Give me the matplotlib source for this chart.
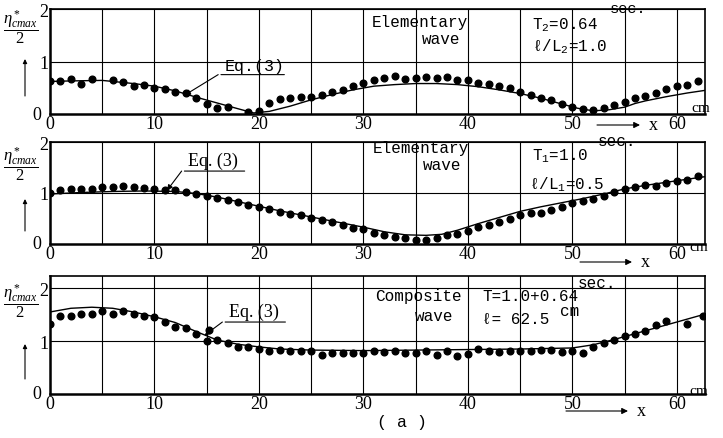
import matplotlib
matplotlib.use('Agg')
import matplotlib.pyplot as plt

plt.rcParams['mathtext.fontset'] = 'custom'
plt.rcParams['mathtext.rm'] = 'Liberation Serif'
plt.rcParams['mathtext.it'] = 'Liberation Serif:italic'
plt.rcParams['mathtext.tt'] = 'Liberation Mono'

MONO = ['Liberation Mono', 'DejaVu Sans Mono']
SERIF = ['Liberation Serif', 'DejaVu Serif']

# --- top panel: elementary wave T2 = 0.64 s
x_top = [0, 1, 2, 3, 4, 6, 7, 8, 9, 10, 11, 12, 13, 14, 15, 16, 17, 19, 20, 21,
         22, 23, 24, 25, 26, 27, 28, 29, 30, 31, 32, 33, 34, 35, 36, 37, 38, 39,
         40, 41, 42, 43, 44, 45, 46, 47, 48, 49, 50, 51, 52, 53, 54, 55, 56, 57,
         58, 59, 60, 61, 62]
y_top = [0.62, 0.63, 0.66, 0.58, 0.66, 0.64, 0.61, 0.53, 0.55, 0.50, 0.48, 0.42,
         0.40, 0.31, 0.19, 0.12, 0.14, 0.04, 0.06, 0.21, 0.28, 0.31, 0.33, 0.32,
         0.37, 0.41, 0.46, 0.53, 0.60, 0.64, 0.69, 0.72, 0.67, 0.69, 0.70, 0.69,
         0.70, 0.65, 0.64, 0.59, 0.57, 0.53, 0.50, 0.42, 0.36, 0.31, 0.26, 0.20,
         0.13, 0.09, 0.08, 0.11, 0.18, 0.23, 0.31, 0.34, 0.40, 0.47, 0.53, 0.55,
         0.62]
xc_top = [0, 2, 5, 8, 10, 12, 14, 16, 18, 19.5, 21, 23, 25, 27, 29, 31, 33, 35,
          37, 39, 41, 43, 45, 47, 49, 50.5, 52, 53.5, 55, 56, 57, 59, 61, 62.7]
yc_top = [0.62, 0.63, 0.64, 0.58, 0.53, 0.44, 0.32, 0.21, 0.10, 0.02, 0.05, 0.15,
          0.27, 0.37, 0.46, 0.53, 0.56, 0.58, 0.58, 0.56, 0.52, 0.46, 0.39, 0.30,
          0.19, 0.11, 0.06, 0.08, 0.13, 0.20, 0.25, 0.33, 0.40, 0.45]

# --- middle panel: elementary wave T1 = 1.0 s
x_mid = list(range(0, 63))
y_mid = [1.00, 1.05, 1.08, 1.08, 1.08, 1.12, 1.11, 1.13, 1.11, 1.10, 1.08, 1.06,
         1.06, 1.02, 0.98, 0.95, 0.91, 0.87, 0.82, 0.77, 0.72, 0.69, 0.62, 0.59,
         0.56, 0.51, 0.47, 0.43, 0.37, 0.31, 0.29, 0.22, 0.17, 0.14, 0.12, 0.08,
         0.07, 0.12, 0.17, 0.20, 0.25, 0.33, 0.37, 0.44, 0.49, 0.56, 0.61, 0.61,
         0.66, 0.72, 0.80, 0.85, 0.89, 0.95, 1.02, 1.08, 1.11, 1.15, 1.14, 1.20,
         1.23, 1.25, 1.33]
xc_mid = [0, 3, 6, 9, 12, 14, 16, 18, 20, 22, 24, 26, 28, 30, 32, 34, 36, 37.5,
          39, 41, 43, 45, 47, 49, 51, 53, 55, 57, 59, 61, 62.7]
yc_mid = [0.98, 1.01, 1.03, 1.04, 1.03, 0.99, 0.92, 0.83, 0.74, 0.65, 0.57, 0.49,
          0.41, 0.33, 0.24, 0.18, 0.17, 0.19, 0.27, 0.40, 0.52, 0.64, 0.73, 0.81,
          0.89, 0.98, 1.08, 1.15, 1.21, 1.27, 1.32]

# --- bottom panel: composite wave
x_bot = [0, 1, 2, 3, 4, 5, 6, 7, 8, 9, 10, 11, 12, 13, 14, 15, 15.2, 16, 17, 18,
         19, 20, 21, 22, 23, 24, 25, 26, 27, 28, 29, 30, 31, 32, 33, 34, 35, 36,
         37, 38, 39, 40, 41, 42, 43, 44, 45, 46, 47, 48, 49, 50, 51, 52, 53, 54,
         55, 56, 57, 58, 59, 61, 62.5]
y_bot = [1.32, 1.48, 1.48, 1.51, 1.52, 1.57, 1.52, 1.56, 1.52, 1.48, 1.45, 1.37,
         1.27, 1.25, 1.14, 1.01, 1.21, 1.02, 0.97, 0.88, 0.88, 0.85, 0.82, 0.83,
         0.81, 0.82, 0.81, 0.74, 0.78, 0.78, 0.77, 0.77, 0.82, 0.79, 0.81, 0.77,
         0.77, 0.81, 0.74, 0.81, 0.72, 0.75, 0.85, 0.81, 0.79, 0.82, 0.82, 0.82,
         0.83, 0.83, 0.79, 0.81, 0.77, 0.88, 0.97, 1.02, 1.10, 1.13, 1.19, 1.31,
         1.38, 1.32, 1.48]
xc_bot = [0, 2, 4, 6, 8, 10, 12, 14, 15, 16, 18, 20, 22, 25, 30, 35, 40, 45, 50,
          52, 54, 56, 58, 60, 62.7]
yc_bot = [1.55, 1.62, 1.64, 1.62, 1.55, 1.46, 1.35, 1.18, 1.10, 1.02, 0.94, 0.89,
          0.85, 0.83, 0.82, 0.83, 0.84, 0.85, 0.87, 0.93, 1.03, 1.14, 1.25, 1.36,
          1.51]

x_ticks = [0, 10, 20, 30, 40, 50, 60]
x_tick_labels = ['0', '10', '20', '30', '40', '50', '60']

W, H = 723, 439
fig = plt.figure(figsize=(W / 100, H / 100), dpi=100)


def pix(px, py):
    # picture pixel (from top-left) -> figure pixels
    return (px, H - py)


def panel(top_px, bottom_px, ymax, xd, yd, xc, yc):
    ax = fig.add_axes([50 / W, 1 - bottom_px / H, 655 / W, (bottom_px - top_px) / H])
    ax.plot(xc, yc, color='black', lw=1.0)
    ax.plot(xd, yd, 'o', color='black', ms=4.8, mec='black')
    ax.set_xlim(0, 62.7)
    ax.set_ylim(0, ymax)
    ax.set_xticks(x_ticks)
    ax.set_xticklabels(x_tick_labels, family=SERIF, fontsize=13)
    ax.set_xticks(range(0, 61, 5), minor=True)
    ax.set_yticks([1, 2])
    ax.set_yticklabels(['1', '2'], family=SERIF, fontsize=13)
    ax.tick_params(which='both', length=0, pad=1)
    ax.grid(which='both', color='black', lw=0.8)
    for s in ['left', 'bottom']:
        ax.spines[s].set_linewidth(1.8)
    for s in ['top', 'right']:
        ax.spines[s].set_linewidth(1.2)
    ax.annotate('0', xy=(0, 0), xycoords='axes fraction', xytext=(-13, 0),
                textcoords='offset pixels', ha='center', va='center',
                family=SERIF, fontsize=13)
    return ax


ax1 = panel(10, 115, 2.0, x_top, y_top, xc_top, yc_top)
ax2 = panel(143, 245, 2.0, x_mid, y_mid, xc_mid, yc_mid)
ax3 = panel(277, 395, 2.23, x_bot, y_bot, xc_bot, yc_bot)

# Eq.(3) labels with leader arrows
eq = [(ax1, 'Eq.(3)', MONO, 12, 16.1, 22.7, 0.75, 12.9, 0.36),
      (ax2, 'Eq. (3)', SERIF, 13, 12.6, 18.9, 1.43, 11.2, 1.05),
      (ax3, 'Eq. (3)', SERIF, 13, 16.5, 22.8, 1.36, 14.8, 1.11)]
for ax, txt, fam, fs, x0, x1, yl, xt, yt in eq:
    ax.text(x0 + 0.6, yl + 0.04, txt, family=fam, fontsize=fs, va='bottom', ha='left')
    ax.annotate('', xy=(x1, yl), xytext=(x0, yl),
                arrowprops=dict(arrowstyle='-', color='black', lw=0.8))
    ax.annotate('', xy=(xt, yt), xytext=(x0, yl),
                arrowprops=dict(arrowstyle='-|>', color='black', lw=0.8,
                                mutation_scale=8, shrinkA=0, shrinkB=0))

# panel captions
ax1.text(30.8, 1.77, 'Elementary', family=MONO, fontsize=11.5, va='center')
ax1.text(35.6, 1.43, 'wave', family=MONO, fontsize=11.5, va='center')
ax1.text(46.1, 1.71, r'$\mathtt{T_2}$=0.64', family=MONO, fontsize=11.5, va='center')
ax1.text(53.6, 2.02, 'sec.', family=MONO, fontsize=11, va='center')
ax1.text(46.1, 1.30, r'ℓ/$\mathtt{L_2}$=1.0', family=MONO, fontsize=11.5, va='center')

ax2.text(30.9, 1.90, 'Elementary', family=MONO, fontsize=11.5, va='center')
ax2.text(35.7, 1.55, 'wave', family=MONO, fontsize=11.5, va='center')
ax2.text(46.1, 1.75, r'$\mathtt{T_1}$=1.0', family=MONO, fontsize=11.5, va='center')
ax2.text(52.4, 2.02, 'sec.', family=MONO, fontsize=11.5, va='center')
ax2.text(45.9, 1.18, r'ℓ/$\mathtt{L_1}$=0.5', family=MONO, fontsize=11.5, va='center')

ax3.text(31.1, 1.87, 'Composite', family=MONO, fontsize=11.5, va='center')
ax3.text(34.9, 1.49, 'wave', family=MONO, fontsize=11.5, va='center')
ax3.text(41.4, 1.87, 'T=1.0+0.64', family=MONO, fontsize=11.5, va='center')
ax3.text(50.5, 2.11, 'sec.', family=MONO, fontsize=11.5, va='center')
ax3.text(41.4, 1.43, 'ℓ= 62.5', family=MONO, fontsize=11.5, va='center')
ax3.text(48.8, 1.57, 'cm', family=MONO, fontsize=11.5, va='center')

# y labels, "cm" after 60 and the "-> x" arrows
for cy, ay0, ay1, cmxy, arr in [(28, 97, 60, (691, 109), (597, 640, 126)),
                               (165, 232, 200, (689, 248), (580, 632, 263)),
                               (302, 380, 345, (689, 392), (566, 628, 412))]:
    fig.text(21 / W, 1 - cy / H, r'$\dfrac{\eta^*_{cmax}}{2}$', fontsize=12,
             ha='center', va='center')
    ax1.annotate('', xy=pix(25, ay1), xytext=pix(25, ay0), xycoords='figure pixels',
                 textcoords='figure pixels',
                 arrowprops=dict(arrowstyle='-|>', color='black', lw=0.8,
                                 mutation_scale=6, shrinkA=0, shrinkB=0))
    fig.text(cmxy[0] / W, 1 - cmxy[1] / H, 'cm', family=SERIF, fontsize=11,
             ha='left', va='center')
    ax1.annotate('', xy=pix(arr[1], arr[2]), xytext=pix(arr[0], arr[2]),
                 xycoords='figure pixels', textcoords='figure pixels',
                 arrowprops=dict(arrowstyle='-|>', color='black', lw=0.8,
                                 mutation_scale=9, shrinkA=0, shrinkB=0))
    fig.text((arr[1] + 9) / W, 1 - arr[2] / H, 'x', family=SERIF, fontsize=13,
             ha='left', va='center')

fig.text(402 / W, 1 - 423 / H, '( a )', family=MONO, fontsize=12, ha='center', va='center')

fig.savefig('out.png', dpi=100)
